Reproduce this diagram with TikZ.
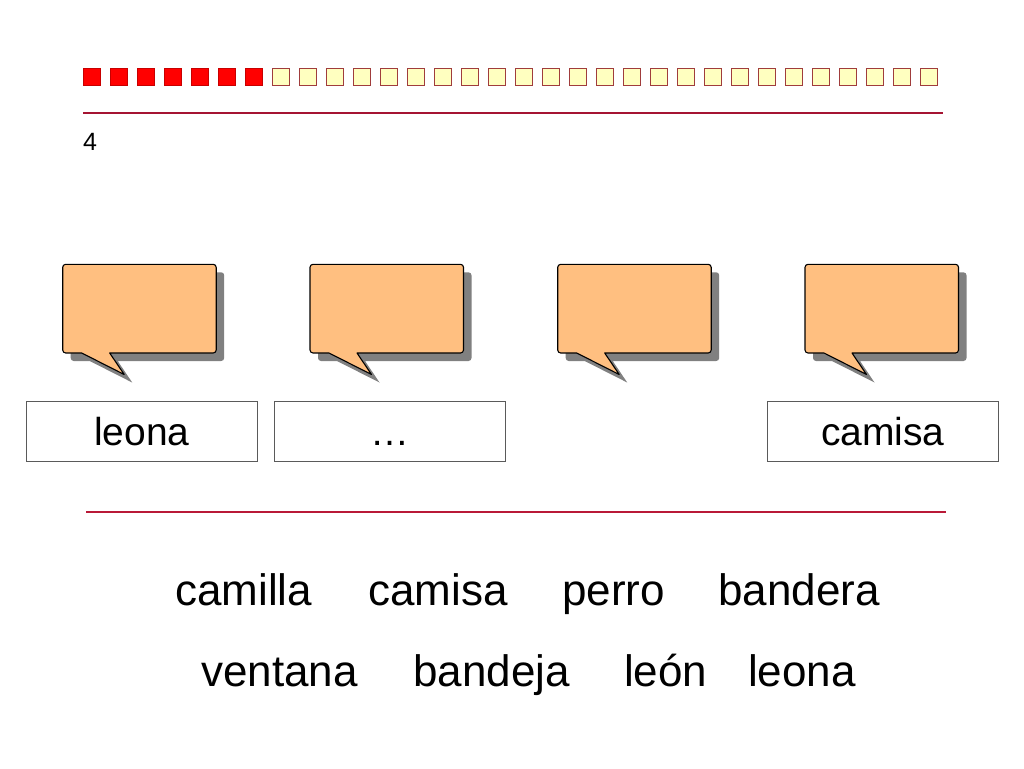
\documentclass[tikz,border=0pt]{standalone}
\usepackage{fontspec}
\setmainfont{Liberation Sans}
\begin{document}
\begin{tikzpicture}[x=1pt,y=-1pt,
  redsq/.style={fill=red,draw={rgb,255:red,200;green,0;blue,0},line width=0.8pt},
  yelsq/.style={fill={rgb,255:red,255;green,255;blue,192},draw={rgb,255:red,160;green,60;blue,60},line width=1pt},
  rule/.style={line width=2.8pt,draw={rgb,255:red,165;green,20;blue,50}},
  bubble/.style={fill={rgb,255:red,255;green,191;blue,128},draw=black,line width=1.1pt,line join=round},
  bshadow/.style={fill={rgb,255:red,128;green,128;blue,128}},
  wordbox/.style={draw={rgb,255:red,90;green,90;blue,90},line width=0.9pt,minimum width=231pt,minimum height=60pt,inner sep=0pt,
    font=\fontsize{39}{39}\selectfont,text height=28pt,text depth=0pt},
  word/.style={anchor=base west,inner sep=0pt,font=\fontsize{44}{44}\selectfont}
]
\useasboundingbox (0,0) rectangle (1024,768);
\fill[white] (0,0) rectangle (1024,768);
% top squares
\foreach \i in {0,...,31}{
  \pgfmathsetmacro{\xx}{83+27*\i}
  \ifnum\i<7
    \path[redsq] (\xx,68) rectangle ++(17,17);
  \else
    \path[yelsq] (\xx,68) rectangle ++(17,17);
  \fi
}
\coordinate (t1) at (83,113);
\coordinate (t2) at (943,113);
\draw[rule] (t1) -- (t2);
\node[anchor=base west,inner sep=0pt,font=\fontsize{25}{25}\selectfont] (num) at (83,150) {4};
% bubbles
\foreach \L in {62.7,310,557.7,805}{
  \pgfmathsetmacro{\R}{\L+153.5}
  \pgfmathsetmacro{\ta}{\L+19}
  \pgfmathsetmacro{\tb}{\L+47}
  \pgfmathsetmacro{\tc}{\L+61.5}
  \begin{scope}[shift={(8,8)}]
  \path[bshadow] (\tb,353) [rounded corners=3pt] -- (\R,353) -- (\R,264.3) -- (\L,264.3) -- (\L,353) [sharp corners] -- (\ta,353) -- (\tc,374.5) -- cycle;
  \end{scope}
  \path[bubble] (\tb,353) [rounded corners=3pt] -- (\R,353) -- (\R,264.3) -- (\L,264.3) -- (\L,353) [sharp corners] -- (\ta,353) -- (\tc,374.5) -- cycle;
}
% word boxes
\node[wordbox] (b1) at (142,431) {leona};
\node[wordbox] (b2) at (389.7,431) {…};
\node[wordbox] (b3) at (882.8,431) {camisa};
\coordinate (u1) at (86,512);
\coordinate (u2) at (946,512);
\draw[rule,draw={rgb,255:red,185;green,25;blue,55}] (u1) -- (u2);
% words
\node[word] (w1) at (175,605) {camilla};
\node[word] (w2) at (368,605) {camisa};
\node[word] (w3) at (562,605) {perro};
\node[word] (w4) at (718,605) {bandera};
\node[word] (w5) at (201,686) {ventana};
\node[word] (w6) at (413,686) {bandeja};
\node[word] (w7) at (624,686) {león};
\node[word] (w8) at (748,686) {leona};
\end{tikzpicture}
\end{document}
